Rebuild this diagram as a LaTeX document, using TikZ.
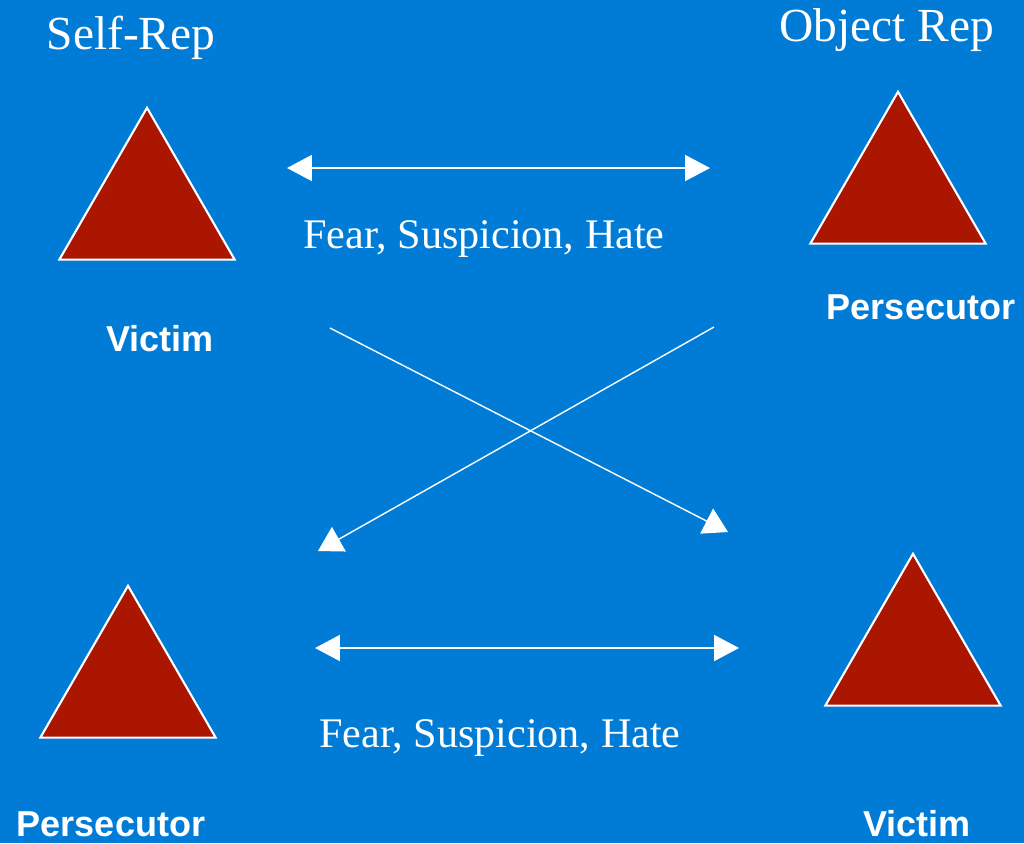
\documentclass[tikz,border=0pt]{standalone}
\usepackage{fontspec}
\setmainfont{Liberation Serif}
\setsansfont{Liberation Sans}
\usetikzlibrary{arrows.meta,shapes.geometric}
\definecolor{slideblue}{RGB}{0,124,214}
\definecolor{trired}{RGB}{170,22,0}

\tikzset{
  tri/.style={regular polygon, regular polygon sides=3, minimum size=4.05cm, inner sep=0pt, fill=trired, draw=white, line width=1.2pt},
  title/.style={text=white, font=\fontsize{27}{32}\selectfont},
  feel/.style={text=white, font=\fontsize{24}{28}\selectfont},
  role/.style={text=white, font=\sffamily\bfseries\fontsize{20.5}{24}\selectfont},
  dbl/.style={white, line width=1.2pt, {Triangle[length=0.5cm,width=0.52cm]}-{Triangle[length=0.5cm,width=0.52cm]}},
  cross/.style={white, line width=0.8pt, -{Triangle[length=0.48cm,width=0.56cm]}}
}

\begin{document}
\begin{tikzpicture}[x=0.02cm, y=-0.02cm]
        \fill[slideblue] (0, 0) rectangle (1024, 843);
        \useasboundingbox (0, 0) rectangle (1024, 843);

        \node[title] (selfrep) at (131, 38) {Self-Rep};
        \node[title] (objrep) at (887, 30) {Object Rep};

        \node[tri] (selfvictim) at (147, 209) {};
        \node[tri] (objpers) at (898, 193) {};
        \node[tri] (selfpers) at (128, 687) {};
        \node[tri] (objvictim) at (913, 655) {};

        \node[role] (lselfvictim) at (160, 339) {Victim};
        \node[role] (lobjpers) at (921, 307) {Persecutor};
        \node[role] (lselfpers) at (111, 824) {Persecutor};
        \node[role] (lobjvictim) at (917, 824) {Victim};

        \coordinate (topl) at (287, 168);
        \coordinate (topr) at (710, 168);
        \coordinate (botl) at (315, 648);
        \coordinate (botr) at (739, 648);
        \draw[dbl] (topl) -- (topr);
        \draw[dbl] (botl) -- (botr);
        \node[feel] (feeltop) at (484, 239) {Fear, Suspicion, Hate};
        \node[feel] (feelbot) at (500, 738) {Fear, Suspicion, Hate};

        \coordinate (xa) at (330, 328);
        \coordinate (xb) at (728, 532);
        \coordinate (xc) at (714, 327);
        \coordinate (xd) at (318, 551);
        \draw[cross] (xa) -- (xb);
        \draw[cross] (xc) -- (xd);
\end{tikzpicture}
\end{document}
